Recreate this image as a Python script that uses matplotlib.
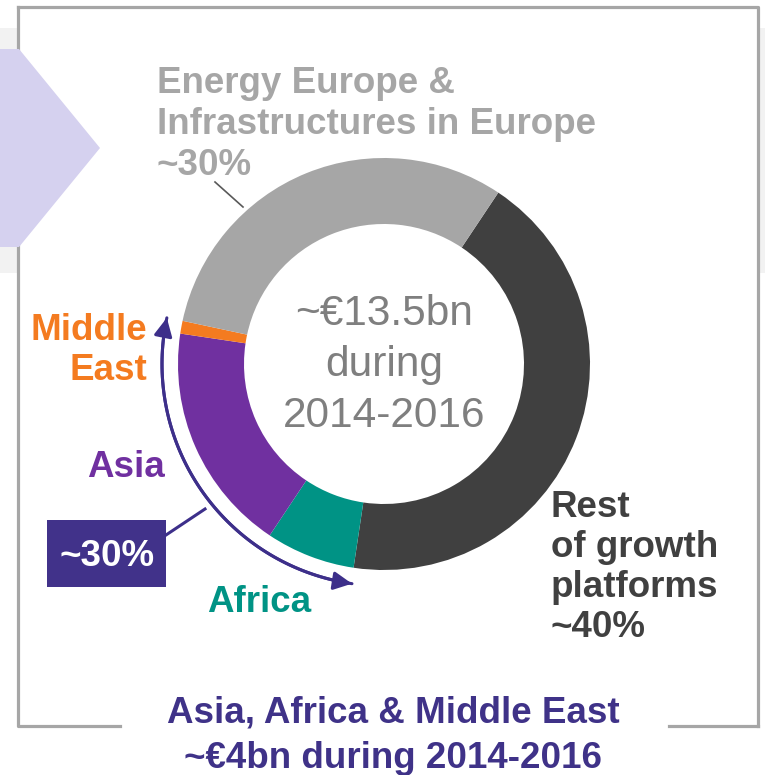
import numpy as np
import matplotlib
matplotlib.use("Agg")
import matplotlib.pyplot as plt
from matplotlib.patches import Rectangle, Polygon, FancyArrowPatch, ArrowStyle
from matplotlib.path import Path

plt.rcParams['font.family'] = ['Liberation Sans', 'DejaVu Sans']

# ---- data ----
segments = ["Rest of growth platforms", "Africa", "Asia", "Middle East", "Energy Europe & Infrastructures in Europe"]
shares = [43, 7, 18, 1, 31]
seg_colors = ["#404040", "#009385", "#7030A0", "#F47B20", "#A6A6A6"]
center_lines = ["~€13.5bn", "during", "2014-2016"]
energy_lines = ["Energy Europe &", "Infrastructures in Europe", "~30%"]
rest_lines = ["Rest", "of growth", "platforms", "~40%"]
me_lines = ["Middle", "East"]
aame_share = "~30%"
bottom_lines = ["Asia, Africa & Middle East", "~€4bn during 2014-2016"]

W, H = 765, 775
fig = plt.figure(figsize=(W / 100, H / 100), dpi=100)
ax = fig.add_axes([0, 0, 1, 1])

def Y(y):
    return H - y

INDIGO = "#3D2F8A"
FRAME = "#A6A6A6"

# background decorations
ax.add_patch(Rectangle((0, Y(273)), 18, 245, color="#F2F2F2", zorder=0, lw=0))
ax.add_patch(Rectangle((760, Y(273)), 5, 245, color="#F2F2F2", zorder=0, lw=0))
lw_frame = 2.3
ax.plot([18, 758, 758], [Y(7), Y(7), Y(726)], color=FRAME, lw=lw_frame, zorder=1, solid_capstyle='projecting')
ax.plot([18, 18, 120], [Y(7), Y(726), Y(726)], color=FRAME, lw=lw_frame, zorder=1, solid_capstyle='projecting')
ax.plot([669, 758], [Y(726), Y(726)], color=FRAME, lw=lw_frame, zorder=1, solid_capstyle='projecting')
ax.add_patch(Polygon([(0, Y(49)), (19, Y(49)), (100, Y(148)), (19, Y(247)), (0, Y(247))],
                     closed=True, color="#D5D1EF", lw=0, zorder=2))

# donut
cx, cy = 384, Y(364)
R, w = 206, 66
ax.pie(shares, colors=seg_colors, startangle=56.3, counterclock=False,
       radius=R, center=(cx, cy), wedgeprops=dict(width=w, edgecolor='none', linewidth=0))

# center text
ax.text(cx, Y(325), center_lines[0], ha='center', va='baseline', fontsize=30.5, color="#7F7F7F")
ax.text(cx, Y(376), center_lines[1], ha='center', va='baseline', fontsize=30.5, color="#7F7F7F")
ax.text(cx, Y(427), center_lines[2], ha='center', va='baseline', fontsize=30.5, color="#7F7F7F")

# Energy label
for i, t in enumerate(energy_lines):
    ax.text(157, Y(93 + 41 * i), t, ha='left', va='baseline', fontsize=26.5,
            fontweight='bold', color="#A6A6A6")
ax.plot([215, 243], [Y(182), Y(207)], color="#595959", lw=1.2, zorder=5)

# Rest label
for i, t in enumerate(rest_lines):
    ax.text(551, Y(517 + 40 * i), t, ha='left', va='baseline', fontsize=26.5,
            fontweight='bold', color="#404040")

# Middle East
ax.text(147, Y(340), me_lines[0], ha='right', va='baseline', fontsize=26.5,
        fontweight='bold', color="#F47B20")
ax.text(147, Y(380), me_lines[1], ha='right', va='baseline', fontsize=26.5,
        fontweight='bold', color="#F47B20")
# Asia
ax.text(165, Y(477), "Asia", ha='right', va='baseline', fontsize=26.5,
        fontweight='bold', color="#7030A0")
# Africa
ax.text(207, Y(612), "Africa", ha='left', va='baseline', fontsize=26.5,
        fontweight='bold', color="#009385")

# arc arrow around Asia/Africa/Middle East
ra = 222
th = np.radians(np.linspace(282, 188.3, 80))
verts = np.column_stack([cx + ra * np.sin(th), cy + ra * np.cos(th)])
codes = [Path.MOVETO] + [Path.LINETO] * (len(verts) - 1)
arrow = FancyArrowPatch(path=Path(verts, codes),
                        arrowstyle=ArrowStyle('-|>', head_length=11, head_width=5.5),
                        mutation_scale=1, color=INDIGO, lw=2.2, zorder=6)
ax.add_patch(arrow)
arrow2 = FancyArrowPatch(path=Path(verts[::-1], codes),
                         arrowstyle=ArrowStyle('-|>', head_length=11, head_width=5.5),
                         mutation_scale=1, color=INDIGO, lw=2.2, zorder=6)
ax.add_patch(arrow2)

# box with share
ax.add_patch(Rectangle((47, Y(587)), 119, 67, color="#41328A", lw=0, zorder=6))
ax.text(107, Y(566), aame_share, ha='center', va='baseline', fontsize=26.5,
        fontweight='bold', color="white", zorder=7)
ax.plot([166, 205], [Y(535), Y(509)], color=INDIGO, lw=2.2, zorder=6)

# bottom title
ax.text(393, Y(722), bottom_lines[0], ha='center', va='baseline', fontsize=26.5,
        fontweight='bold', color="#3F3288")
ax.text(393, Y(768), bottom_lines[1], ha='center', va='baseline', fontsize=26.5,
        fontweight='bold', color="#3F3288")

ax.set_xlim(0, W)
ax.set_ylim(0, H)
ax.set_aspect('auto')
ax.axis('off')
fig.savefig("out.png", dpi=100)
